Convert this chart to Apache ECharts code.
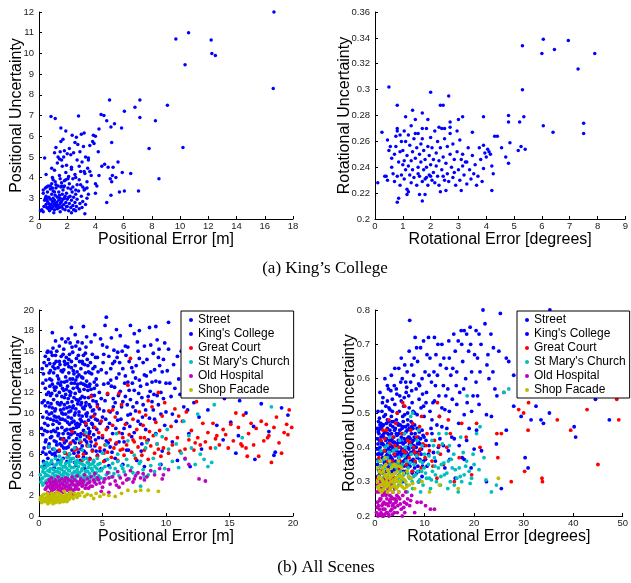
<!DOCTYPE html>
<html>
<head>
<meta charset="utf-8">
<script src="https://cdn.jsdelivr.net/npm/echarts@6/dist/echarts.min.js"></script>
<style>
html, body { margin: 0; padding: 0; background: #fff; }
#chart { width: 631px; height: 583px; }
</style>
</head>
<body>
<div id="chart"></div>
<script>
// (a) King's College: [error, uncertainty]
const kingsPos = [
  [0.1,2.4],[0.2,2.45],[0.3,2.35],[0.35,2.6],[0.4,2.9],[0.45,3.0],[0.5,2.7],[0.5,3.1],[0.55,2.55],[0.6,2.85],[0.6,3.3],[0.65,2.5],[0.7,2.75],[0.7,3.05],[0.75,2.6],[0.8,2.95],[0.8,3.45],[0.85,2.7],[0.9,2.5],[0.9,3.2],[0.95,2.85],[1.0,2.6],[1.0,3.0],[1.0,3.35],[1.05,2.75],[1.1,2.45],[1.1,2.9],[1.15,3.15],[1.2,2.6],[1.2,3.5],[1.25,2.8],[1.3,2.5],[1.3,3.05],[1.35,2.65],[1.4,2.9],[1.4,3.3],[1.45,2.55],[1.5,2.75],[1.5,3.0],[1.55,3.55],[1.6,2.6],[1.6,2.85],[1.65,3.2],[1.7,2.5],[1.7,3.4],[1.75,2.7],[1.8,3.0],[1.8,3.6],[1.85,2.45],[1.9,2.8],[1.95,3.25],[2.0,2.6],[2.0,2.95],[2.05,3.5],[2.1,2.4],[2.15,2.75],[2.2,3.1],[2.25,2.55],[2.3,2.9],[2.35,3.3],[2.4,2.65],[2.45,3.05],[2.5,2.45],[2.55,2.8],[2.6,3.2],[2.65,2.6],[2.7,2.95],[2.8,3.35],[2.85,2.5],[2.9,2.75],[3.0,3.1],[3.05,2.55],[3.1,2.85],[3.2,3.4],[3.3,2.7],[3.4,3.0],[3.5,3.2],[0.3,3.25],[0.45,3.5],[0.65,3.6],[0.9,3.7],[1.15,3.8],[1.35,3.6],[1.6,3.75],[1.9,3.9],[2.15,3.7],[2.4,3.55],[2.7,3.65],[2.3,2.3],[1.05,2.3],[0.75,2.4],[1.5,2.35],[2.6,2.4],[1.25,2.65],[0.95,3.5],[1.7,2.95],[2.1,3.05],[0.55,2.95],[1.45,3.15],[1.85,3.1],[0.8,2.55],[1.15,2.7],[2.45,2.45],[1.95,2.6],[3.25,2.25],
  [0.85,6.95],[1.15,6.85],[2.8,6.98],[4.4,7.05],[4.6,7.0],[4.8,6.75],[5.35,6.6],[5.1,6.45],[5.85,6.4],[4.25,6.35],[1.55,6.4],[1.9,6.25],[3.0,6.1],[3.2,6.15],[2.35,6.05],[3.85,6.05],[4.0,6.0],[2.65,5.95],[1.7,5.85],[2.55,5.7],[1.55,5.75],[3.8,5.75],[3.9,5.65],[5.15,5.7],[7.8,5.4],[10.2,5.45],[3.15,5.5],[3.6,5.55],[2.75,5.6],[1.2,5.45],[4.2,5.25],[1.1,5.2],[1.5,5.25],[1.8,5.3],[2.0,5.15],[2.25,5.1],[2.45,5.2],[0.4,4.95],[1.45,4.9],[1.75,5.0],[1.6,4.85],[3.5,4.95],[3.5,4.85],[2.7,4.85],[5.6,4.75],[4.65,4.65],[4.45,4.55],[4.9,4.5],[5.25,4.5],[1.95,4.6],[2.3,4.5],[1.65,4.55],[2.95,4.3],[3.2,4.3],[1.1,4.35],[3.45,4.45],[5.9,4.25],[6.5,4.2],[3.25,4.2],[4.25,4.1],[3.7,4.1],[5.2,4.1],[5.45,4.0],[5.05,3.95],[8.5,3.95],[5.15,3.8],[0.5,4.15],[2.1,4.05],[2.05,3.95],[1.45,4.1],[2.4,3.95],[2.6,4.0],[1.8,3.85],[2.85,3.9],[3.4,3.8],[4.0,3.7],[4.1,3.6],[2.95,3.65],[0.8,3.6],[1.2,3.65],[1.6,3.6],[1.75,3.55],[0.55,3.55],[0.3,3.4],[1.1,3.3],[2.25,3.45],[2.6,3.4],[3.1,3.55],[3.25,3.45],[3.4,3.5],[4.0,3.25],[5.1,3.15],[5.7,3.3],[6.05,3.35],[7.05,3.35],[4.8,2.8],[2.3,4.4],[1.3,4.7],[2.9,5.25],[0.95,4.0],[1.9,4.25],[2.55,4.15],[3.05,4.75],[1.35,5.0],[2.15,5.4],[3.3,5.0],[0.9,4.45],[2.85,4.55],[3.6,4.3],[1.0,3.9],[1.5,3.95],
  [16.65,12.0],[10.6,11.0],[9.7,10.7],[12.2,10.65],[12.25,10.0],[12.5,9.9],[10.35,9.45],[16.6,8.3],[5.0,7.75],[7.15,7.75],[9.1,7.5],[6.8,7.4],[6.05,7.2],[7.15,6.9],[8.25,6.75]
];

const kingsRot = [
  [5.3,0.334],[6.05,0.339],[6.0,0.328],[6.45,0.331],[6.95,0.338],[7.9,0.328],[7.3,0.316],[5.3,0.300],[0.5,0.302],[2.0,0.298],[2.65,0.295],[0.8,0.288],[2.35,0.288],[2.45,0.288],[1.35,0.284],[1.7,0.282],[1.1,0.279],[1.45,0.277],[3.15,0.279],[3.9,0.279],[4.8,0.280],[5.35,0.279],[1.9,0.277],[4.8,0.275],[5.2,0.275],[2.7,0.275],[3.0,0.277],[6.05,0.272],[7.5,0.274],[0.25,0.267],[0.8,0.270],[0.45,0.261],[6.4,0.267],[7.5,0.266],[3.5,0.267],[4.3,0.264],[4.4,0.264],[4.85,0.259],[4.55,0.255],[5.25,0.256],[5.15,0.253],[5.4,0.254],[4.7,0.248],[4.8,0.243],[4.2,0.241],[4.25,0.235],[4.2,0.222],[3.85,0.229],[3.9,0.239],[0.1,0.228],[0.8,0.213],[0.85,0.216],[1.7,0.214],[1.15,0.219],[1.8,0.219],[2.35,0.221],[3.1,0.222],
  [0.35,0.233],[0.4,0.233],[0.45,0.230],[0.55,0.256],[0.6,0.247],[0.65,0.235],[0.7,0.229],[0.7,0.250],[0.75,0.264],[0.75,0.256],[0.8,0.233],[0.8,0.268],[0.85,0.244],[0.9,0.226],[0.9,0.252],[0.95,0.234],[0.95,0.260],[1.0,0.242],[1.0,0.253],[1.05,0.231],[1.05,0.245],[1.05,0.268],[1.1,0.238],[1.1,0.260],[1.15,0.249],[1.15,0.223],[1.2,0.241],[1.2,0.265],[1.25,0.234],[1.25,0.257],[1.3,0.228],[1.3,0.245],[1.35,0.252],[1.35,0.238],[1.4,0.262],[1.4,0.232],[1.45,0.247],[1.5,0.255],[1.5,0.226],[1.55,0.240],[1.55,0.266],[1.6,0.250],[1.6,0.233],[1.65,0.258],[1.65,0.244],[1.7,0.229],[1.7,0.262],[1.75,0.238],[1.75,0.253],[1.8,0.246],[1.8,0.231],[1.85,0.270],[1.85,0.240],[1.9,0.256],[1.9,0.226],[1.95,0.234],[1.95,0.249],[2.0,0.242],[2.0,0.263],[2.05,0.230],[2.05,0.255],[2.1,0.246],[2.1,0.236],[2.15,0.268],[2.15,0.228],[2.2,0.251],[2.2,0.241],[2.25,0.233],[2.25,0.260],[2.3,0.245],[2.3,0.226],[2.35,0.255],[2.4,0.238],[2.4,0.270],[2.45,0.248],[2.5,0.230],[2.5,0.262],[2.55,0.243],[2.6,0.235],[2.6,0.256],[2.65,0.229],[2.7,0.250],[2.7,0.266],[2.75,0.240],[2.8,0.232],[2.8,0.258],[2.85,0.246],[2.9,0.226],[2.95,0.252],[2.95,0.268],[3.0,0.238],[3.05,0.230],[3.05,0.261],[3.1,0.246],[3.15,0.250],[3.2,0.234],[3.25,0.244],[3.3,0.227],[3.35,0.255],[3.4,0.238],[3.45,0.231],[3.5,0.249],[3.55,0.235],[3.6,0.242],[3.7,0.233],[3.75,0.255],[3.8,0.246],[3.9,0.257],[3.95,0.251],[4.0,0.248],[4.05,0.254],[4.1,0.252],[4.15,0.250],[3.65,0.226],[3.3,0.244],[2.55,0.222],[1.6,0.219],[1.2,0.221],[0.6,0.240],[1.3,0.272],[1.7,0.270],[2.3,0.271],[2.5,0.270],[2.7,0.271],[1.45,0.266],[0.5,0.253],[0.9,0.265],[2.0,0.233],[1.85,0.232],[2.85,0.236],[3.15,0.241],[2.45,0.233],[1.55,0.235]
];

// (b) All scenes, positional: [error m, uncertainty]
const streetPos = [
  [0.3,9.6],[0.35,13.8],[0.4,6.6],[0.4,11.2],[0.45,8.3],[0.5,15.5],[0.5,12.4],[0.55,7.4],[0.6,10.1],[0.6,14.6],[0.35,5.3],[0.45,9.0],
  [0.7,5.6],[0.7,8.8],[0.75,12.0],[0.75,15.2],[0.8,7.0],[0.8,10.6],[0.85,13.3],[0.85,6.2],[0.9,9.4],[0.9,11.7],[0.9,14.1],[0.7,16.0],
  [1.0,5.1],[1.0,7.7],[1.0,10.0],[1.05,12.8],[1.05,15.6],[1.1,6.5],[1.1,8.9],[1.15,11.3],[1.15,13.9],[1.2,7.3],[1.2,9.7],[1.2,14.8],[1.1,16.3],[1.0,11.9],
  [1.3,5.8],[1.3,8.2],[1.3,10.4],[1.35,12.5],[1.35,15.0],[1.4,6.9],[1.4,9.2],[1.45,11.0],[1.45,13.6],[1.5,7.8],[1.5,10.9],[1.5,14.4],[1.4,16.0],[1.5,5.4],
  [1.6,6.3],[1.6,9.0],[1.6,12.0],[1.65,14.7],[1.7,5.2],[1.7,7.5],[1.7,10.3],[1.75,13.0],[1.75,15.5],[1.8,8.6],[1.8,11.6],[1.8,6.8],[1.6,16.5],[1.7,12.7],
  [1.9,5.6],[1.9,8.0],[1.9,9.9],[1.95,12.2],[1.95,14.2],[2.0,7.1],[2.0,10.8],[2.0,15.0],[2.05,6.1],[2.05,9.3],[2.1,11.8],[2.1,13.5],[2.1,16.9],[2.0,13.0],
  [2.2,5.3],[2.2,8.4],[2.2,10.5],[2.25,12.6],[2.25,14.8],[2.3,6.7],[2.3,9.6],[2.3,11.4],[2.35,13.9],[2.35,7.6],[2.4,15.7],[2.4,8.9],[2.4,12.1],[2.3,17.2],[2.4,6.0],
  [2.5,5.5],[2.5,7.9],[2.5,10.2],[2.55,12.9],[2.55,14.4],[2.6,6.4],[2.6,9.1],[2.6,11.1],[2.65,13.3],[2.65,15.9],[2.7,7.3],[2.7,10.7],[2.7,12.4],[2.6,16.4],[2.7,8.5],
  [2.8,5.2],[2.8,8.1],[2.8,9.8],[2.85,11.9],[2.85,14.6],[2.9,6.6],[2.9,13.2],[2.9,10.4],[2.95,7.5],[2.95,15.3],[3.0,9.0],[3.0,12.5],[3.0,5.8],[2.9,16.5],[3.0,14.0],
  [3.1,6.2],[3.1,8.7],[3.1,11.2],[3.15,13.7],[3.15,10.1],[3.2,7.1],[3.2,12.1],[3.2,15.0],[3.25,9.4],[3.25,5.4],[3.3,14.3],[3.3,8.0],[3.3,10.8],[3.2,16.2],[3.3,12.9],
  [3.4,6.8],[3.4,9.7],[3.4,11.6],[3.45,13.4],[3.5,5.7],[3.5,8.3],[3.5,15.6],[3.55,10.4],[3.55,12.3],[3.6,7.4],[3.6,14.7],[3.6,9.1],[3.5,18.4],[3.4,16.8],
  [3.7,6.1],[3.7,8.8],[3.7,11.0],[3.75,13.1],[3.8,7.7],[3.8,10.0],[3.8,15.2],[3.85,12.2],[3.85,5.2],[3.9,9.3],[3.9,14.0],[3.9,11.5],[3.7,16.4],[3.8,6.9],
  [4.0,5.6],[4.0,8.2],[4.0,12.8],[4.05,10.6],[4.05,14.9],[4.1,7.2],[4.1,9.6],[4.15,11.7],[4.15,13.8],[4.2,6.4],[4.2,8.9],[4.2,15.7],[4.1,16.9],
  [4.3,5.3],[4.3,7.9],[4.3,10.3],[4.35,12.4],[4.4,14.5],[4.4,6.8],[4.45,9.4],[4.5,11.1],[4.5,13.3],[4.55,8.4],[4.6,15.4],[4.6,5.9],[4.6,10.8],
  [0.5,7.2],[0.6,11.8],[0.8,13.9],[0.95,8.2],[1.05,10.5],[1.25,12.2],[1.35,7.2],[1.55,9.6],[1.55,13.3],[1.75,11.0],[1.85,9.4],[1.85,14.0],[2.05,8.3],[2.15,12.3],[2.15,15.4],[2.35,10.1],[2.45,11.7],[2.45,13.3],[2.55,9.5],[2.75,11.5],[2.75,13.8],[2.95,8.6],[3.05,10.9],[3.05,12.8],[3.25,7.7],[3.35,11.0],[3.45,14.8],[3.65,10.7],[3.65,12.7],[3.95,8.0],[3.95,12.6],[4.25,11.2],[4.45,7.4],[0.65,9.5],[0.85,12.6],[1.15,9.3],[1.45,8.5],[1.65,10.8],[1.95,10.4],[2.25,9.1],[2.5,8.4],[2.85,7.1],[3.15,9.8],[3.35,13.5],[3.75,9.7],[4.05,7.6],[4.35,13.0],[1.25,6.1],[2.15,6.6],[2.75,6.1],[3.55,6.3],[1.95,6.6],[0.55,6.0],[2.35,14.5],[1.25,14.3],[0.95,15.9],[3.65,15.8],[2.85,17.6],[1.8,17.2],
  [0.3,7.9],[0.3,12.9],[0.4,14.9],[0.5,10.7],[0.55,13.2],[0.65,8.2],[0.65,15.9],[0.7,11.0],[0.75,6.7],[0.8,9.9],[0.85,14.8],[0.9,7.6],[0.95,10.9],[1.0,13.2],[1.05,6.0],[1.1,14.5],[1.15,8.3],[1.2,12.5],[1.25,10.2],[1.3,15.6],[1.35,9.6],[1.4,11.7],[1.45,6.3],[1.5,12.9],[1.55,8.0],[1.6,15.0],[1.65,7.0],[1.7,9.4],[1.75,14.1],[1.8,10.0],[1.85,12.4],[1.9,15.7],[1.95,7.5],[2.0,11.5],[2.05,14.7],[2.1,9.9],[2.15,7.3],[2.2,13.1],[2.25,11.0],[2.3,8.0],[2.35,15.2],[2.4,10.6],[2.45,7.0],[2.5,12.0],[2.55,15.0],[2.6,8.0],[2.65,10.5],[2.7,14.1],[2.75,9.2],[2.8,12.9],[2.85,10.0],[2.9,8.9],[2.95,11.3],[3.0,13.5],[3.05,7.9],[3.1,15.6],[3.15,12.3],[3.2,8.9],[3.25,11.4],[3.3,6.5],[3.35,9.2],[3.4,15.0],[3.45,10.5],[3.5,12.8],[3.55,7.9],[3.6,11.5],[3.65,13.9],[3.7,9.9],[3.75,7.2],[3.8,12.6],[3.85,14.6],[3.9,8.5],[3.95,10.8],[4.0,13.9],[4.05,6.8],[4.1,12.3],[4.15,9.0],[4.2,10.2],[4.25,14.3],[4.3,8.6],[4.35,11.7],[4.4,9.9],[4.45,15.4],[4.5,6.3],[4.55,12.7],[4.6,9.3],[4.65,14.0],[4.7,7.6],[4.75,10.4],[0.45,4.9],[1.2,4.7],[2.0,4.8],[2.9,4.9],[3.6,4.6],[0.25,11.0],[0.2,8.5],[0.25,14.3],[0.3,6.2],[1.95,16.2],[2.45,16.8],[3.05,16.9],[3.75,17.4],[1.3,17.0],[4.4,17.6],[1.05,17.8],[2.55,18.3],
  [4.8,6.3],[4.8,9.0],[4.9,11.4],[4.9,14.2],[5.0,16.6],[5.0,7.6],[5.1,12.8],[5.1,10.2],[5.2,5.4],[5.2,18.5],[5.3,19.3],[5.3,13.9],[5.4,8.6],[5.4,11.8],[5.5,15.5],[5.6,6.7],[5.6,10.1],[5.7,12.6],[5.8,14.8],[5.8,8.0],[5.9,16.1],[6.0,11.0],[6.0,5.6],[6.1,13.4],[6.2,9.3],[6.2,15.9],[6.3,7.2],[6.4,12.1],[6.4,17.5],[6.5,10.6],[6.6,14.3],[6.7,8.5],[6.8,11.6],[6.8,16.5],[6.9,6.4],[7.0,13.0],[7.0,9.8],[7.1,15.0],[7.2,11.3],[7.3,7.7],[7.4,14.0],[7.5,12.2],[7.5,17.7],[7.6,10.2],[7.7,5.4],[7.8,16.0],[7.9,13.2],[8.0,8.9],[8.1,11.5],[8.2,14.9],[8.3,16.5],[8.4,10.3],[8.5,12.8],[8.6,7.4],[8.7,18.3],[8.8,14.0],[8.9,11.1],[9.0,15.8],[9.1,9.4],[9.2,13.1],[9.3,17.1],[9.4,10.8],[9.5,14.6],[9.6,12.0],[9.7,6.3],[9.8,15.2],[9.9,8.8],[10.0,12.9],[4.9,4.6],[5.5,4.9],[6.6,5.0],[7.2,18.5],[7.9,18.0],[6.1,18.1],[5.7,17.3],[8.3,4.8],[9.2,18.4],
  [4.75,12.0],[5.05,14.9],[5.25,9.4],[5.45,7.1],[5.65,13.2],[5.85,11.4],[6.15,10.0],[6.35,14.9],[6.55,8.0],[6.75,12.9],[6.95,10.8],[7.15,8.7],[7.35,12.9],[7.65,14.6],[7.85,11.9],[8.15,9.6],[8.45,13.6],[8.75,12.1],[9.05,11.8],[9.45,16.2],[5.15,6.4],[6.05,7.0],[7.05,6.4],[8.05,6.3],[4.85,17.2],[5.95,15.0],[6.85,15.6],[7.75,16.9],
  [5.0,9.6],[5.1,15.7],[5.2,11.2],[5.3,7.3],[5.35,16.4],[5.45,12.9],[5.55,9.0],[5.65,14.3],[5.75,6.2],[5.85,10.6],[5.95,12.5],[6.05,8.5],[6.15,15.4],[6.25,11.7],[6.3,13.8],[6.45,9.4],[6.55,16.0],[6.6,11.1],[6.7,7.2],[6.8,13.6],[6.9,9.0],[7.0,16.4],[7.1,12.2],[7.2,9.9],[7.3,14.4],[7.4,10.6],[7.5,8.1],[7.6,13.4],[7.7,11.0],[7.8,9.2],[7.9,15.3],[8.0,12.6],[8.1,7.0],[8.2,10.8],[8.3,13.7],[8.4,8.4],[8.5,15.2],[8.6,11.6],[8.7,9.5],[8.8,16.6],[8.9,13.0],[9.0,10.3],[9.1,14.2],[9.2,8.0],[9.3,11.7],[9.4,15.4],[9.5,13.0],[9.6,9.9],[9.7,14.0],[9.8,11.4],[9.9,16.8],[10.0,10.1],[10.1,14.1],[10.3,12.9],[10.5,9.9],[10.7,12.4],[10.9,15.5],[11.1,11.8],[11.3,14.2],[11.7,10.3],[12.1,13.0],[12.5,12.0],[13.0,14.3],[13.6,13.5],[14.2,15.2],[15.0,13.4],[15.8,11.2],[16.5,15.3],[17.3,12.1],[18.2,14.6],[19.0,16.4],[19.5,14.2],[10.2,18.8],[11.9,17.0],[14.4,17.9],
  [10.2,16.2],[10.4,11.6],[10.6,14.7],[10.8,9.2],[11.0,13.3],[11.2,16.0],[11.4,10.6],[11.6,12.5],[11.8,8.0],[12.0,14.8],[12.2,11.0],[12.4,15.9],[12.6,9.6],[12.9,13.2],[13.1,16.3],[13.3,10.3],[13.5,12.0],[13.8,15.0],[14.0,8.8],[14.3,13.8],[14.6,11.4],[14.9,16.0],[15.1,9.1],[15.4,12.7],[15.7,7.8],[16.0,14.5],[16.3,10.0],[16.6,12.1],[16.9,8.7],[17.2,13.4],[17.5,10.9],[17.8,15.4],[18.1,8.2],[18.4,11.9],[18.6,6.2],[18.8,13.9],[19.1,10.5],[19.4,12.6],[19.7,11.8],[19.9,18.4],[11.5,17.4],[10.5,7.2],[12.8,6.5],[15.5,6.1],[17.0,5.5],[18.5,5.9],[19.6,9.8],[14.5,7.4],[16.8,17.0],[13.0,18.0],[10.9,5.4],[11.9,4.8],[9.6,5.0]
];
const kingsAllPos = [];
const greatCourtPos = [
  [3.0,6.5],[3.1,5.8],[3.3,7.2],[3.5,6.0],[3.6,8.0],[3.8,6.8],[4.0,5.5],[4.0,7.5],[4.2,6.3],[4.4,8.6],[4.5,7.0],[4.6,5.8],[4.8,6.6],[4.9,9.2],[5.0,7.8],[5.1,5.3],[5.2,6.9],[5.3,8.4],[5.4,6.2],[5.5,10.2],[5.6,7.4],[5.7,5.7],[5.8,8.8],[5.9,6.6],[6.0,9.6],[6.1,7.1],[6.2,5.4],[6.3,8.1],[6.4,6.4],[6.5,10.8],[6.6,7.6],[6.7,5.9],[6.8,8.9],[6.9,6.9],[7.0,12.7],[7.1,7.9],[7.2,15.3],[7.3,6.2],[7.4,9.4],[7.5,7.2],[7.6,5.6],[7.7,8.4],[7.8,6.7],[7.9,10.1],[8.0,7.6],[8.1,5.9],[8.2,8.8],[8.3,6.4],[8.4,9.8],[8.5,7.3],[8.6,5.5],[8.7,8.2],[8.8,6.8],[8.9,10.6],[9.0,7.8],[9.1,6.1],[9.2,9.1],[9.3,7.0],[9.4,12.0],[9.5,8.3],[9.6,5.8],[9.7,9.7],[9.8,6.6],[9.9,11.0],[10.0,7.5],[10.2,6.1],[10.4,8.7],[10.5,6.9],[10.7,10.4],[10.9,7.6],[11.1,6.3],[11.3,9.2],[11.5,6.5],[11.6,10.1],[11.8,7.4],[12.0,8.3],[12.2,6.4],[12.4,11.1],[12.5,7.6],[12.7,6.9],[12.9,9.0],[13.1,7.2],[13.3,8.1],[13.5,6.6],[13.7,9.0],[13.9,7.5],[14.2,6.9],[14.5,8.4],[14.7,7.9],[14.9,6.6],[15.1,8.9],[15.3,7.3],[15.5,10.0],[15.7,8.6],[15.9,7.0],[16.1,9.8],[16.3,6.6],[16.5,8.0],[16.7,9.0],[16.9,6.9],[17.1,8.5],[17.3,5.8],[17.5,9.2],[17.7,7.3],[17.9,8.9],[18.1,7.8],[18.3,5.2],[18.5,8.6],[18.7,9.6],[18.9,7.1],[19.1,6.1],[19.3,8.1],[19.5,8.9],[19.7,10.3],[19.9,8.6],[19.6,7.9],[18.0,7.6],[16.0,6.8],[14.0,7.8],[12.3,7.1],[11.0,9.7],[8.6,11.2],[6.3,11.9],[5.8,10.3],[4.7,8.1],[4.3,9.7],[3.7,9.0],[3.9,7.7],[5.1,6.1],[6.6,6.5],[7.4,7.4],[8.3,7.6],[9.4,6.5],[3.4,5.4],[2.5,7.1],[2.8,6.4],[2.3,5.9],[1.9,7.4],[2.6,8.2],[1.6,6.4],[2.1,6.1],[4.1,11.6],[4.6,10.6],[5.4,11.9],[16.4,5.8]
];
const stMarysPos = [
  [0.1,4.0],[0.2,3.6],[0.3,4.3],[0.4,3.2],[0.5,4.7],[0.5,3.9],[0.6,5.2],[0.7,3.5],[0.7,4.4],[0.8,5.0],[0.9,3.8],[0.9,4.6],[1.0,3.1],[1.0,5.4],[1.1,4.1],[1.2,3.6],[1.2,4.9],[1.3,4.3],[1.3,5.6],[1.4,3.3],[1.4,3.9],[1.5,4.6],[1.5,5.2],[1.6,3.7],[1.6,4.2],[1.7,5.0],[1.7,3.4],[1.8,4.5],[1.8,5.5],[1.9,3.9],[1.9,4.8],[2.0,3.3],[2.0,4.3],[2.1,5.1],[2.1,3.7],[2.2,4.6],[2.2,5.7],[2.3,4.0],[2.3,3.4],[2.4,4.9],[2.4,4.4],[2.5,3.6],[2.5,5.3],[2.6,4.1],[2.6,3.2],[2.7,4.7],[2.7,5.6],[2.8,3.8],[2.8,4.3],[2.9,5.0],[2.9,3.5],[3.0,4.5],[3.0,5.4],[3.1,3.9],[3.1,4.8],[3.2,3.3],[3.2,4.2],[3.3,5.1],[3.3,3.7],[3.4,4.6],[3.5,5.5],[3.5,4.0],[3.6,3.4],[3.6,4.9],[3.7,4.4],[3.8,3.8],[3.8,5.2],[3.9,4.7],[4.0,4.1],[4.0,3.5],[4.1,5.0],[4.2,4.4],[4.3,3.9],[4.3,5.4],[4.4,4.8],[4.5,4.2],[4.5,3.7],[0.3,3.0],[0.8,2.9],[1.1,3.0],[0.4,5.1],[0.6,4.0],[1.6,5.8],[2.0,6.2],[1.2,6.5],[0.8,6.7],[2.4,6.0],[2.8,6.6],[3.4,6.4],[3.9,6.8],[3.2,7.4],[3.7,8.1],[1.3,3.2],[2.1,2.9],[2.6,3.0],[3.0,3.1],[0.15,3.3],[0.35,4.6],[1.75,4.0],[2.35,5.2],[3.45,3.1],[4.6,5.6],
  [0.2,4.8],[0.3,3.7],[0.45,4.2],[0.55,3.4],[0.65,4.9],[0.75,3.9],[0.85,4.3],[0.95,5.2],[1.05,3.5],[1.15,4.5],[1.25,3.9],[1.35,5.0],[1.45,4.3],[1.55,3.5],[1.65,4.6],[1.75,5.3],[1.85,3.6],[1.95,4.2],[2.05,4.8],[2.15,4.1],[2.25,3.7],[2.35,4.4],[2.45,5.6],[2.55,4.7],[2.65,3.6],[2.75,4.2],[2.85,5.2],[2.95,3.9],[3.05,4.2],[3.15,5.2],[3.25,3.8],[3.35,4.4],[3.45,5.0],[3.55,3.7],[3.65,4.3],[3.75,5.6],[3.85,4.3],[3.95,5.0],[4.05,3.8],[4.15,4.6],[4.25,5.1],[4.35,4.2],[4.45,3.5],[4.55,4.6],[4.65,5.0],[4.75,4.4],[4.85,3.7],[5.0,4.6],[5.3,4.0],[5.6,4.7],[5.9,4.1],[6.2,5.3],[6.6,4.6],[7.0,4.9],[7.4,4.2],[8.0,5.3],[8.3,3.8],
  [4.7,3.9],[4.8,5.1],[4.9,4.4],[5.0,6.1],[5.1,3.6],[5.2,4.8],[5.4,5.5],[5.5,4.2],[5.7,3.8],[5.8,5.1],[6.0,4.6],[6.2,6.0],[6.3,3.9],[6.5,4.9],[6.7,4.3],[6.9,5.5],[7.1,3.6],[7.3,4.7],[7.5,5.9],[7.7,4.1],[7.9,5.1],[8.0,2.9],[8.2,4.5],[8.4,6.6],[8.6,4.0],[8.8,4.9],[9.0,5.6],[9.1,4.3],[9.3,7.0],[9.5,5.0],[9.7,7.7],[9.9,4.6],[10.2,6.5],[10.5,5.3],[10.8,7.0],[11.0,4.7],[11.2,6.1],[11.5,5.5],[11.8,7.8],[12.0,6.6],[12.3,5.0],[12.5,9.9],[12.7,6.0],[13.0,5.5],[13.3,4.8],[13.6,5.2],[13.8,10.8],[13.9,6.6],[9.2,7.9],[10.1,8.4],[11.4,9.2],[6.1,8.0],[7.0,7.3],[8.5,7.1],[5.3,6.9],[16.0,7.6],[18.3,10.6]
];
const oldHospitalPos = [
  [0.5,2.6],[0.6,3.2],[0.7,2.3],[0.7,2.9],[0.8,3.5],[0.9,2.7],[0.9,3.1],[1.0,2.4],[1.0,3.7],[1.1,2.9],[1.1,3.3],[1.2,2.6],[1.2,3.0],[1.3,2.2],[1.3,3.5],[1.4,2.8],[1.4,3.2],[1.5,2.5],[1.5,3.8],[1.6,2.9],[1.6,3.4],[1.7,2.4],[1.7,3.1],[1.8,2.7],[1.8,3.6],[1.9,2.3],[1.9,3.0],[2.0,2.6],[2.0,3.4],[2.1,2.9],[2.1,3.7],[2.2,2.5],[2.2,3.2],[2.3,2.8],[2.3,3.5],[2.4,2.2],[2.4,3.0],[2.5,3.4],[2.5,2.7],[2.6,3.1],[2.6,3.8],[2.7,2.5],[2.8,3.0],[2.8,3.5],[2.9,2.8],[3.0,3.3],[3.0,3.9],[3.1,2.6],[3.2,3.1],[3.3,3.6],[3.4,2.9],[3.5,3.4],[3.6,4.0],[3.7,3.0],[3.8,3.6],[3.9,2.7],[4.0,3.3],[4.1,3.8],[4.2,2.9],[4.3,3.5],[4.4,4.1],[4.5,3.1],[4.6,3.7],[4.8,3.2],[5.0,2.8],[5.2,3.6],[5.4,4.2],[5.6,3.1],[5.8,3.8],[6.0,3.4],[6.2,4.3],[6.4,3.7],[6.6,3.2],[6.8,4.0],[7.0,3.6],[7.2,4.4],[7.4,3.3],[7.6,3.9],[7.8,4.2],[8.0,3.7],[8.2,4.1],[8.5,3.8],[8.8,4.4],[9.1,4.0],[9.5,4.6],[9.8,4.0],[10.2,4.5],[11.5,5.6],[11.8,5.0],[12.6,3.6],[13.1,3.4],[0.8,2.0],[1.2,1.9],[2.7,2.1],[4.9,2.4],[5.5,2.3],[6.3,2.8],[9.7,3.6],
  [0.6,2.8],[0.85,3.3],[1.05,2.7],[1.25,3.3],[1.45,3.0],[1.65,2.6],[1.85,3.2],[2.05,2.9],[2.25,3.6],[2.45,2.6],[2.65,3.3],[2.85,2.6],[3.05,3.0],[3.25,3.4],[3.45,3.2],[3.65,2.7],[3.85,3.2],[4.05,2.9],[4.35,3.3],[4.7,3.5],[5.1,3.3],[5.5,3.7],[6.1,3.0],[6.9,3.5],[7.5,3.6],[8.3,3.5]
];
const shopFacadePos = [
  [0.1,1.6],[0.2,1.3],[0.2,1.9],[0.3,1.5],[0.4,1.7],[0.4,2.1],[0.5,1.4],[0.6,1.8],[0.6,1.5],[0.7,2.0],[0.8,1.3],[0.8,1.6],[0.9,1.9],[1.0,1.4],[1.0,2.2],[1.1,1.7],[1.2,1.5],[1.2,1.9],[1.3,2.1],[1.3,1.3],[1.4,1.6],[1.5,1.9],[1.5,1.5],[1.6,2.2],[1.7,1.7],[1.8,1.4],[1.8,2.0],[1.9,1.6],[2.0,1.9],[2.0,2.4],[2.1,1.5],[2.2,1.8],[2.3,2.1],[2.4,1.7],[2.5,2.3],[2.6,1.9],[2.8,2.2],[3.0,1.8],[3.2,2.0],[3.4,2.3],[3.6,1.9],[3.8,2.1],[4.1,2.0],[4.3,1.7],[4.5,2.2],[4.8,1.9],[5.1,2.1],[5.5,2.0],[6.0,1.9],[6.5,2.2],[7.0,2.5],[7.6,2.4],[8.0,2.5],[8.6,2.5],[9.4,2.4],[0.3,2.0],[0.7,1.2],[1.1,1.2],[1.6,1.3],[0.9,1.5],[2.2,1.4],[1.4,2.3],
  [0.15,1.8],[0.35,1.4],[0.55,1.6],[0.65,2.2],[0.75,1.5],[0.85,1.8],[1.05,1.6],[1.15,2.0],[1.25,1.7],[1.35,1.4],[1.45,1.8],[1.55,1.6],[1.65,2.0],[1.75,1.5],[1.85,1.8],[1.95,1.4],[2.05,1.7],[2.15,2.1],[2.35,1.6],[2.45,2.0],[2.7,1.7],[2.9,2.0],[3.1,2.2]
];

// (b) All scenes, rotational: [error degrees, uncertainty]
const streetRot = [
  [0.5,0.35],[0.6,0.41],[0.7,0.38],[0.8,0.44],[0.9,0.32],[1.0,0.40],[1.0,0.36],[1.2,0.43],[1.2,0.30],[1.3,0.38],[1.4,0.46],[1.5,0.34],[1.6,0.41],[1.7,0.37],[1.8,0.44],[1.9,0.32],[2.0,0.39],[2.1,0.35],[2.2,0.42],[2.3,0.47],[2.4,0.31],[2.5,0.38],[2.6,0.44],[2.7,0.34],[2.8,0.40],[2.9,0.36],[3.0,0.45],[3.1,0.29],[3.2,0.42],[3.3,0.37],[3.4,0.33],[3.5,0.40],[3.6,0.46],[3.7,0.35],[3.8,0.43],[3.9,0.38],[4.0,0.31],[4.1,0.41],[4.2,0.36],[4.3,0.44],[4.4,0.39],[4.5,0.34],[4.6,0.47],[4.7,0.42],[4.8,0.37],[4.9,0.32],[5.0,0.45],[5.1,0.40],[5.2,0.35],[5.3,0.43],[5.4,0.38],[5.5,0.30],[5.6,0.46],[5.7,0.41],[5.8,0.36],[5.9,0.44],[6.0,0.39],[6.2,0.33],[6.3,0.42],[6.4,0.37],[6.5,0.45],[6.7,0.40],[6.8,0.35],[6.9,0.43],[7.0,0.38],[7.2,0.31],[7.3,0.41],[7.4,0.46],[7.5,0.36],[7.7,0.42],[7.8,0.39],[8.0,0.34],[8.1,0.44],[8.3,0.40],[8.5,0.37],[8.7,0.43],[8.9,0.33],[9.1,0.41],[9.3,0.38],[9.5,0.45],[9.8,0.36],
  [0.55,0.38],[0.75,0.45],[0.95,0.42],[1.1,0.33],[1.35,0.41],[1.55,0.37],[1.75,0.43],[1.95,0.36],[2.15,0.39],[2.35,0.33],[2.55,0.41],[2.75,0.37],[2.95,0.42],[3.15,0.39],[3.35,0.44],[3.55,0.36],[3.75,0.39],[3.95,0.45],[4.15,0.33],[4.35,0.41],[4.55,0.38],[4.75,0.44],[4.95,0.36],[5.15,0.42],[5.35,0.39],[5.55,0.44],[5.75,0.33],[5.95,0.38],[6.15,0.46],[6.35,0.40],[6.55,0.35],[6.75,0.43],[6.95,0.41],[7.15,0.36],[7.35,0.44],[7.55,0.40],[7.9,0.43],[8.2,0.38],[8.6,0.41],[9.0,0.39],[1.2,0.47],[2.5,0.48],[3.3,0.49],[4.3,0.48],[5.6,0.49],[6.6,0.48],[1.8,0.49],[0.8,0.29],[1.6,0.30],[2.6,0.31],[3.6,0.30],[4.6,0.31],[6.1,0.30],[7.6,0.33],[8.8,0.30],[9.9,0.43],
  [0.5,0.425],[0.6,0.365],[0.65,0.445],[0.7,0.335],[0.85,0.395],[0.9,0.455],[1.05,0.385],[1.15,0.455],[1.25,0.345],[1.3,0.415],[1.45,0.385],[1.5,0.435],[1.65,0.325],[1.7,0.465],[1.85,0.405],[1.9,0.355],[2.05,0.445],[2.1,0.315],[2.25,0.375],[2.3,0.425],[2.45,0.355],[2.5,0.455],[2.65,0.395],[2.7,0.475],[2.85,0.345],[2.9,0.435],[3.05,0.375],[3.1,0.465],[3.25,0.405],[3.3,0.325],[3.45,0.425],[3.5,0.365],[3.65,0.415],[3.7,0.475],[3.85,0.335],[3.9,0.415],[4.05,0.375],[4.1,0.455],[4.25,0.395],[4.3,0.345],[4.45,0.435],[4.5,0.405],[4.65,0.355],[4.7,0.465],[4.85,0.415],[4.9,0.385],[5.05,0.345],[5.1,0.465],[5.25,0.375],[5.3,0.415],[5.45,0.455],[5.5,0.355],[5.65,0.395],[5.7,0.475],[5.85,0.425],[5.9,0.325],[6.05,0.415],[6.1,0.365],[6.25,0.445],[6.3,0.385],[6.45,0.345],[6.5,0.425],[6.65,0.465],[6.7,0.375],[6.85,0.395],[6.9,0.455],[7.05,0.345],[7.1,0.425],[7.25,0.385],[7.3,0.475],[7.45,0.415],[7.5,0.325],[7.65,0.455],[7.7,0.365],[7.85,0.405],[8.0,0.465],[8.1,0.355],[8.25,0.425],[8.4,0.385],[8.5,0.455],[8.65,0.345],[8.8,0.415],[8.95,0.445],[9.05,0.365],[9.2,0.425],[9.4,0.395],[9.6,0.345],[9.7,0.435],[9.9,0.405],[10.2,0.365],[0.4,0.395],[0.45,0.455],[0.55,0.315],[0.9,0.485],[1.4,0.505],[2.1,0.495],[2.8,0.515],[3.5,0.505],[4.0,0.525],[4.9,0.505],[5.3,0.535],[6.0,0.495],[6.9,0.515],[7.7,0.505],[8.5,0.495],[9.3,0.515],[1.6,0.545],[3.2,0.565],[5.9,0.545],[7.4,0.565],[8.8,0.585],[9.6,0.555],[0.6,0.505],[2.5,0.535],[4.4,0.555],[6.4,0.575],[1.0,0.465],[0.7,0.475],[3.4,0.475],[1.3,0.325],[2.0,0.345],[2.9,0.305],[3.8,0.355],[4.7,0.315],[5.8,0.345],[6.8,0.315],[8.4,0.325],[9.5,0.315],[10.5,0.345],[10.9,0.405],[11.3,0.455],[11.8,0.385],[12.5,0.465],[13.1,0.425],[13.8,0.405],[14.5,0.455],[15.1,0.365],[16.0,0.425],[17.0,0.405],[18.0,0.365],[19.0,0.455],[20.0,0.395],[11.1,0.505],[12.0,0.535],[13.5,0.515],[15.0,0.505],[16.5,0.525],[18.0,0.495],[19.5,0.505],[21.0,0.525],[22.5,0.495],
  [1.0,0.56],[1.5,0.53],[2.2,0.52],[2.7,0.57],[3.0,0.51],[3.5,0.54],[4.0,0.63],[4.5,0.50],[4.8,0.63],[5.0,0.55],[5.5,0.60],[5.8,0.52],[6.0,0.64],[6.3,0.56],[6.6,0.50],[6.9,0.68],[7.2,0.59],[7.5,0.53],[7.8,0.61],[8.0,0.50],[8.3,0.57],[8.6,0.65],[8.9,0.54],[9.2,0.69],[9.5,0.60],[9.8,0.52],[10.1,0.62],[10.4,0.56],[10.8,0.72],[11.1,0.66],[11.4,0.59],[11.7,0.53],[12.0,0.72],[12.3,0.67],[12.6,0.61],[12.9,0.55],[13.2,0.64],[13.5,0.70],[13.8,0.58],[14.1,0.51],[14.4,0.63],[14.7,0.57],[15.0,0.66],[15.3,0.61],[15.6,0.54],[15.9,0.73],[16.2,0.68],[16.5,0.62],[16.8,0.71],[17.1,0.56],[17.4,0.74],[17.7,0.65],[18.0,0.74],[18.3,0.60],[18.6,0.53],[18.9,0.68],[19.2,0.75],[19.5,0.62],[19.8,0.55],[20.1,0.67],[20.4,0.59],[20.7,0.66],[21.0,0.73],[21.4,0.70],[21.8,0.80],[22.2,0.76],[22.6,0.64],[23.0,0.60],[23.4,0.73],[23.8,0.62],[24.2,0.57],[24.6,0.55],[25.0,0.68],[25.3,0.79],[26.5,0.66],[27.0,0.65],[28.0,0.61],[29.0,0.57],[30.0,0.60],[31.0,0.56],[7.0,0.77],[9.9,0.49],[11.5,0.48],[13.0,0.49],[3.9,0.58],[2.0,0.60],[5.3,0.66],[6.5,0.62],[8.1,0.72],[10.5,0.67],
  [2.5,0.58],[3.3,0.61],[4.3,0.57],[5.2,0.59],[6.8,0.55],[7.4,0.64],[8.4,0.69],[9.0,0.58],[9.8,0.71],[10.9,0.61],[11.9,0.62],[12.7,0.70],[13.9,0.66],[14.9,0.71],[15.7,0.63],[16.4,0.58],[17.5,0.70],[18.5,0.73],[19.3,0.70],[20.4,0.74],[21.2,0.62],[22.8,0.67],[23.9,0.69],[6.2,0.59],[7.9,0.66],[10.3,0.53],[12.2,0.58],[14.3,0.55],[17.9,0.57],[20.7,0.55],
  [10.3,0.42],[10.8,0.38],[11.5,0.44],[12.2,0.36],[12.8,0.40],[13.5,0.46],[14.1,0.34],[14.8,0.39],[15.5,0.43],[16.2,0.31],[16.9,0.47],[17.6,0.37],[18.5,0.42],[19.4,0.34],[20.5,0.45],[21.5,0.39],[22.5,0.30],[23.5,0.49],[24.5,0.41],[25.5,0.28],[26.5,0.45],[28.0,0.52],[29.5,0.49],[30.3,0.37],[30.9,0.34],[31.5,0.48],[32.5,0.52],[33.5,0.48],[34.0,0.47],[35.2,0.50],[36.0,0.56],[38.2,0.56],[40.2,0.46],[40.5,0.43],[44.5,0.54],[47.3,0.48],[35.3,0.80]
];
const kingsAllRot = [];
const greatCourtRot = [
  [0.8,0.37],[1.2,0.42],[1.5,0.33],[1.9,0.39],[2.3,0.45],[2.6,0.36],[3.0,0.41],[3.3,0.31],[3.6,0.43],[3.9,0.38],[4.2,0.47],[4.5,0.34],[4.8,0.40],[5.1,0.36],[5.4,0.44],[5.7,0.39],[6.0,0.52],[6.3,0.35],[6.6,0.42],[6.9,0.37],[7.2,0.45],[7.5,0.33],[7.8,0.40],[8.1,0.36],[8.4,0.43],[8.7,0.38],[9.0,0.46],[9.3,0.34],[9.7,0.41],[10.1,0.37],[10.5,0.44],[11.0,0.39],[11.5,0.36],[12.0,0.42],[12.6,0.53],[13.2,0.38],[13.8,0.35],[14.5,0.40],[15.2,0.44],[16.0,0.30],[17.0,0.37],[18.4,0.43],[19.5,0.32],[20.5,0.47],[21.2,0.40],[24.8,0.37],[24.6,0.44],[25.5,0.44],[27.5,0.30],[26.0,0.56],[29.0,0.51],[30.0,0.50],[30.9,0.45],[30.2,0.33],[33.8,0.30],[33.7,0.31],[36.8,0.48],[39.5,0.45],[42.8,0.51],[45.0,0.35],[48.8,0.54],[49.2,0.48],[31.0,0.53],[5.6,0.53],[4.5,0.50],[7.6,0.47],[13.0,0.49],[2.2,0.30],[3.4,0.36],[1.6,0.45],[0.6,0.31],[2.8,0.48],[12.5,0.31],[9.4,0.49],[17.5,0.47],[8.8,0.30],[14.8,0.48],
  [1.0,0.345],[2.0,0.425],[3.1,0.355],[4.0,0.405],[5.0,0.335],[6.1,0.385],[7.0,0.415],[8.0,0.385],[9.1,0.395],[10.3,0.405],[11.7,0.345],[12.9,0.405]
];
const stMarysRot = [
  [0.8,0.33],[1.0,0.30],[1.3,0.36],[1.6,0.28],[1.9,0.34],[2.2,0.31],[2.5,0.37],[2.8,0.29],[3.1,0.35],[3.4,0.32],[3.7,0.39],[4.0,0.28],[4.3,0.34],[4.6,0.31],[4.9,0.37],[5.2,0.30],[5.5,0.35],[5.8,0.32],[6.1,0.40],[6.4,0.29],[6.7,0.34],[7.0,0.31],[7.3,0.38],[7.6,0.28],[7.9,0.35],[8.2,0.32],[8.5,0.42],[8.8,0.30],[9.1,0.36],[9.4,0.33],[9.7,0.29],[10.0,0.38],[10.4,0.31],[10.8,0.35],[11.2,0.28],[11.6,0.33],[12.0,0.37],[12.4,0.30],[12.8,0.34],[13.2,0.29],[13.6,0.41],[14.0,0.32],[14.4,0.44],[14.8,0.36],[15.2,0.30],[15.6,0.34],[16.0,0.29],[16.5,0.31],[17.0,0.34],[17.5,0.30],[18.0,0.32],[18.5,0.36],[19.0,0.33],[19.5,0.31],[20.0,0.35],[20.5,0.44],[21.2,0.46],[22.0,0.37],[23.5,0.27],[24.5,0.29],[26.0,0.56],[27.0,0.57],[18.6,0.55],[17.3,0.43],[7.6,0.50],[7.2,0.49],[8.8,0.45],[6.0,0.44],[5.0,0.42],[3.0,0.43],[2.0,0.40],[1.2,0.39],[4.8,0.29],[6.5,0.27],[9.2,0.27],[11.5,0.42],[12.9,0.44],[15.9,0.38],[19.8,0.38],[1.5,0.31],[2.7,0.33],[3.9,0.30],[5.1,0.33],[6.3,0.36],[7.5,0.30],[8.6,0.33],[9.9,0.34],[11.0,0.31],[12.2,0.32],[13.4,0.35],[0.6,0.36],[2.4,0.27],[3.6,0.27],[14.7,0.28],[16.8,0.27],
  [1.1,0.345],[1.8,0.365],[2.3,0.295],[2.9,0.385],[3.5,0.345],[4.1,0.325],[4.7,0.355],[5.4,0.305],[5.9,0.375],[6.6,0.325],[7.1,0.355],[7.8,0.315],[8.4,0.375],[9.0,0.305],[9.6,0.355],[10.2,0.325],[10.9,0.375],[11.4,0.305],[12.1,0.345],[12.7,0.385],[13.3,0.315],[13.9,0.355],[14.5,0.325],[15.4,0.365],[16.2,0.335],[17.2,0.315],[18.3,0.345],[19.2,0.295],[21.0,0.335],[22.4,0.305],[15.0,0.405],[11.8,0.405],[9.5,0.405],[7.2,0.405],[17.8,0.385],[4.3,0.395],[2.5,0.405]
];
const oldHospitalRot = [
  [0.3,0.21],[0.5,0.24],[0.6,0.20],[0.8,0.27],[0.9,0.22],[1.0,0.25],[1.2,0.21],[1.3,0.28],[1.4,0.23],[1.5,0.26],[1.7,0.20],[1.8,0.24],[1.9,0.29],[2.0,0.22],[2.2,0.26],[2.3,0.21],[2.4,0.25],[2.6,0.28],[2.7,0.23],[2.8,0.20],[3.0,0.26],[3.1,0.24],[3.3,0.29],[3.4,0.22],[3.6,0.27],[3.7,0.25],[3.9,0.21],[4.0,0.28],[4.2,0.24],[4.4,0.26],[4.6,0.23],[4.8,0.27],[5.0,0.25],[5.3,0.22],[5.6,0.26],[5.9,0.24],[6.2,0.27],[6.6,0.25],[7.0,0.23],[7.4,0.26],[8.0,0.21],[8.5,0.24],[9.3,0.24],[10.2,0.23],[11.2,0.22],[12.0,0.22],[0.4,0.27],[1.1,0.30],[2.1,0.31],[2.9,0.30],[3.8,0.31],[0.7,0.23],[1.6,0.22],[2.5,0.21],[3.5,0.23],[4.5,0.21],[5.5,0.20],[6.0,0.21],[1.2,0.25],[2.0,0.27],[3.2,0.25],[4.1,0.25],[0.5,0.29],[1.5,0.20],
  [0.45,0.225],[0.75,0.205],[0.95,0.245],[1.15,0.275],[1.35,0.205],[1.55,0.235],[1.75,0.265],[1.95,0.205],[2.15,0.235],[2.35,0.265],[2.55,0.235],[2.75,0.205],[2.95,0.245],[3.15,0.215],[3.35,0.255],[3.55,0.205],[3.75,0.235],[4.0,0.225],[4.3,0.245],[4.7,0.255],[5.1,0.235],[5.8,0.225],[6.4,0.235],[7.2,0.245]
];
const shopFacadeRot = [
  [0.5,0.30],[0.7,0.28],[0.9,0.33],[1.0,0.29],[1.2,0.31],[1.3,0.27],[1.5,0.34],[1.6,0.30],[1.8,0.28],[1.9,0.32],[2.1,0.29],[2.2,0.35],[2.4,0.31],[2.5,0.27],[2.7,0.33],[2.8,0.29],[3.0,0.31],[3.1,0.28],[3.3,0.34],[3.4,0.30],[3.6,0.27],[3.7,0.32],[3.9,0.29],[4.0,0.35],[4.2,0.31],[4.3,0.28],[4.5,0.33],[4.6,0.30],[4.8,0.27],[5.0,0.32],[5.2,0.29],[5.4,0.34],[5.6,0.31],[5.9,0.28],[6.2,0.30],[6.5,0.33],[6.9,0.29],[7.3,0.31],[8.0,0.28],[9.5,0.30],[11.0,0.27],[13.0,0.29],[16.8,0.28],[24.9,0.31],[0.6,0.34],[1.1,0.36],[2.0,0.37],[2.9,0.36],[3.8,0.35],[4.7,0.36],[1.4,0.29],[2.3,0.30],[3.2,0.30],[4.1,0.30],[5.1,0.30],[1.7,0.33],[2.6,0.32],[3.5,0.32],[4.4,0.31],[0.8,0.31],
  [0.55,0.285],[0.8,0.315],[1.05,0.275],[1.25,0.325],[1.45,0.305],[1.55,0.275],[1.75,0.295],[1.95,0.345],[2.15,0.315],[2.35,0.285],[2.55,0.335],[2.65,0.295],[2.85,0.325],[3.05,0.275],[3.25,0.315],[3.45,0.285],[3.55,0.345],[3.75,0.305],[3.95,0.325],[4.15,0.285],[4.35,0.345],[4.55,0.285],[4.75,0.315],[4.95,0.345],[5.25,0.315],[5.5,0.285],[5.75,0.325],[6.0,0.305],[6.4,0.285],[6.8,0.315],[7.6,0.295]
];

const sceneNames = ['Street', "King's College", 'Great Court', "St Mary's Church", 'Old Hospital', 'Shop Facade'];
const sceneColors = ['#0000ff', '#008000', '#ff0000', '#00bfbf', '#bf00bf', '#bfbf00'];
const allPos = [streetPos, kingsAllPos, greatCourtPos, stMarysPos, oldHospitalPos, shopFacadePos];
const allRot = [streetRot, kingsAllRot, greatCourtRot, stMarysRot, oldHospitalRot, shopFacadeRot];

const font = 'Liberation Sans';
const chart = echarts.init(document.getElementById('chart'));

function axisBase(gridIndex, min, max, interval) {
  return {
    type: 'value', gridIndex, min, max, interval,
    nameLocation: 'middle',
    nameMoveOverlap: false,
    nameTextStyle: { fontFamily: font, fontSize: 16, color: '#000' },
    axisLine: { show: true, onZero: false, lineStyle: { color: '#000', width: 1 } },
    axisTick: { show: true, inside: true, length: 3, lineStyle: { color: '#000' } },
    axisLabel: { fontFamily: font, fontSize: 9.5, color: '#222', margin: 2 },
    splitLine: { show: false }
  };
}
function xAxis(g, min, max, interval, name) {
  const a = axisBase(g, min, max, interval);
  a.name = name; a.nameGap = 13;
  return a;
}
function yAxis(g, min, max, interval, name, gap) {
  const a = axisBase(g, min, max, interval);
  a.name = name; a.nameGap = gap;
  a.axisLabel = Object.assign({}, a.axisLabel, { margin: 5 });
  return a;
}

function scatter(name, color, data, g, size) {
  return {
    type: 'scatter', name, data, xAxisIndex: g, yAxisIndex: g,
    symbol: 'circle', symbolSize: size,
    itemStyle: { color, opacity: 1 },
    silent: true, animation: false
  };
}

const series = [
  scatter("King's College", '#0000ff', kingsPos, 0, 3.5),
  scatter("King's College", '#0000ff', kingsRot, 1, 3.5)
];
sceneNames.forEach((n, i) => {
  series.push(scatter(n, sceneColors[i], allPos[i], 2, 3.8));
});
sceneNames.forEach((n, i) => {
  series.push(scatter(n, sceneColors[i], allRot[i], 3, 3.8));
});

const legendBase = {
  data: sceneNames,
  orient: 'vertical',
  top: 311,
  icon: 'circle',
  itemWidth: 4, itemHeight: 4, itemGap: 2,
  padding: [3, 4, 2, 8],
  borderColor: '#000', borderWidth: 1, borderRadius: 0,
  backgroundColor: '#fff',
  selectedMode: false,
  textStyle: { fontFamily: font, fontSize: 12, color: '#000', lineHeight: 12 }
};

chart.setOption({
  animation: false,
  grid: [
    { left: 39, top: 12, width: 254, height: 207 },
    { left: 375, top: 12, width: 253, height: 207 },
    { left: 39, top: 310, width: 254, height: 206 },
    { left: 375, top: 310, width: 253, height: 206 }
  ],
  xAxis: [
    xAxis(0, 0, 18, 2, 'Positional Error [m]'),
    xAxis(1, 0, 9, 1, 'Rotational Error [degrees]'),
    xAxis(2, 0, 20, 5, 'Positional Error [m]'),
    xAxis(3, 0, 50, 10, 'Rotational Error [degrees]')
  ],
  yAxis: [
    yAxis(0, 2, 12, 1, 'Positional Uncertainty', 14),
    yAxis(1, 0.2, 0.36, 0.02, 'Rotational Uncertainty', 22),
    yAxis(2, 0, 20, 2, 'Positional Uncertainty', 14),
    yAxis(3, 0.2, 0.8, 0.1, 'Rotational Uncertainty', 17)
  ],
  legend: [
    Object.assign({}, legendBase, { left: 181 }),
    Object.assign({}, legendBase, { left: 517 })
  ],
  graphic: [
    { type: 'text', x: 325, y: 269, style: { text: '(a) King\u2019s College', font: '17px "Liberation Serif"', fill: '#000', textAlign: 'center', textVerticalAlign: 'middle', align: 'center', verticalAlign: 'middle' } },
    { type: 'text', x: 326, y: 568, style: { text: '(b) All Scenes', font: '17px "Liberation Serif"', fill: '#000', textAlign: 'center', textVerticalAlign: 'middle', align: 'center', verticalAlign: 'middle' } }
  ],
  series
});
</script>
</body>
</html>
